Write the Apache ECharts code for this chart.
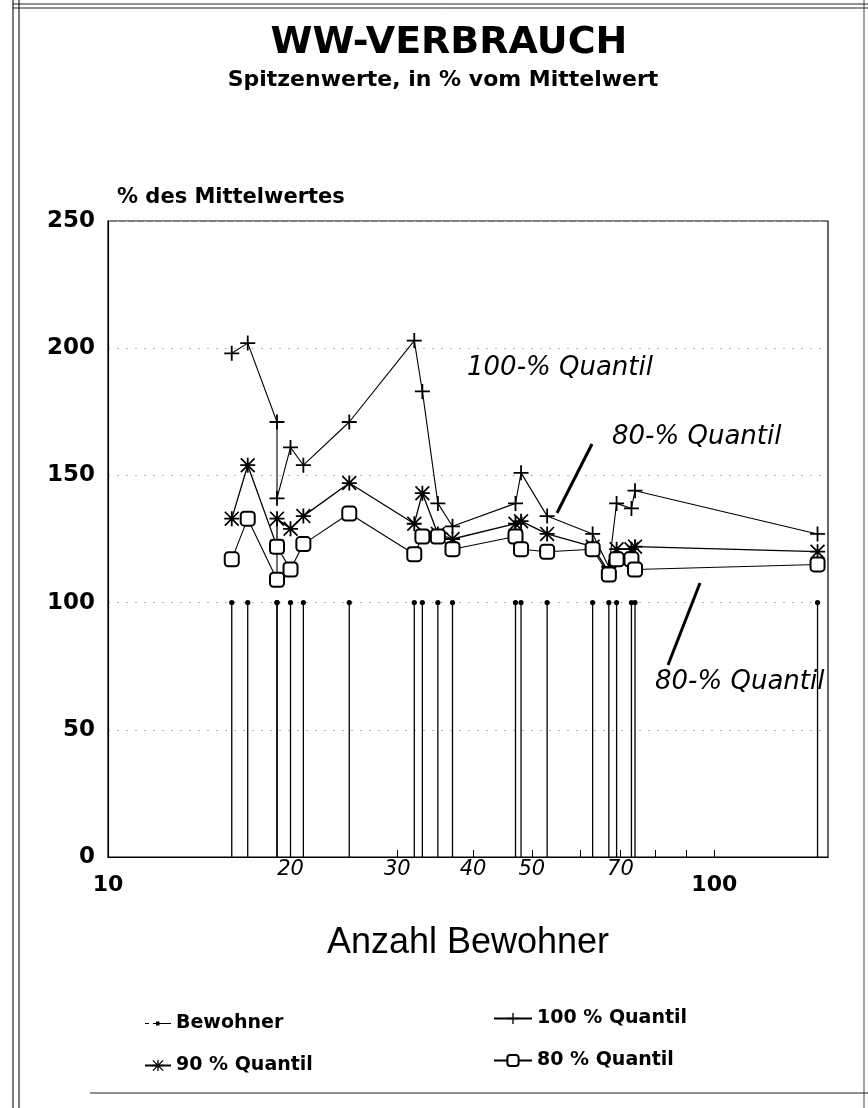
<!DOCTYPE html>
<html>
<head>
    <meta charset="utf-8"/>
    <script src="https://cdn.jsdelivr.net/npm/echarts@6/dist/echarts.min.js"></script>
    <style>
        html, body { margin: 0; padding: 0; background: #fff; }
        #container { width: 868px; height: 1108px; }
    </style>
</head>
<body>
<div id="container"></div>
<script type="text/javascript">
    // Anzahl Bewohner je Haus (log. Achse)
    var residents = [16, 17, 19, 19, 20, 21, 25, 32, 33, 35, 37, 47, 48, 53, 63, 67, 69, 73, 74, 148];
    // Mittelwert = 100 %
    var meanLevel = [100, 100, 100, 100, 100, 100, 100, 100, 100, 100, 100, 100, 100, 100, 100, 100, 100, 100, 100, 100];
    var q100 = [198, 202, 171, 141, 161, 154, 171, 203, 183, 139, 130, 139, 151, 134, 127, 114, 139, 137, 144, 127];
    var q90 = [133, 154, 122, 133, 129, 134, 147, 131, 143, 127, 125, 131, 132, 127, 122, 112, 121, 121, 122, 120];
    var q80 = [117, 133, 109, 122, 113, 123, 135, 119, 126, 126, 121, 126, 121, 120, 121, 111, 117, 117, 113, 115];

    var xLabels = [10, 20, 30, 40, 50, 70, 100];
    var xTicks = [20, 30, 40, 50, 60, 70, 80, 90, 100];

    var FONT = '"Liberation Sans", Arial, Helvetica, sans-serif';
    var WIDE = '"DejaVu Sans", Verdana, sans-serif';

    function pairs(ys) {
        var out = [];
        for (var i = 0; i < residents.length; i++) {
            out.push([residents[i], ys[i]]);
        }
        return out;
    }

    var plusSym = 'path://M0,4.4h10v1.2h-10z M4.4,0h1.2v10h-1.2z';
    var starSym = 'path://M0,4.4h10v1.2h-10z M4.4,0h1.2v10h-1.2z M0.8,0L10,9.2L9.2,10L0,0.8z M9.2,0L10,0.8L0.8,10L0,9.2z';
    var stemIcon = 'path://M0,0h0.01v0.01h-0.01z M26,14h0.01v0.01h-0.01z M0,6.5h4v1h-4z M8,6.5h18v1h-18z M11,5h3.5v4h-3.5z';

    var dom = document.getElementById('container');
    var myChart = echarts.init(dom);
    var option = {
        animation: false,
        backgroundColor: '#fff',
        textStyle: { fontFamily: FONT, color: '#000' },
        grid: {
            left: 108, right: 40, top: 221, bottom: 251,
            show: true, borderColor: '#000', borderWidth: 1.2, backgroundColor: 'transparent'
        },
        xAxis: {
            type: 'log',
            logBase: 10,
            min: 10,
            max: 154,
            name: 'Anzahl Bewohner',
            nameLocation: 'middle',
            nameGap: 68,
            nameTextStyle: { fontSize: 36, fontFamily: FONT, color: '#000' },
            axisLine: { lineStyle: { color: '#000', width: 1.2 } },
            axisTick: { show: true, inside: true, length: 7, customValues: xTicks, lineStyle: { color: '#000' } },
            splitLine: { show: false },
            axisLabel: {
                customValues: xLabels,
                margin: 2,
                formatter: function (v) {
                    var n = Math.round(v);
                    return (n === 10 || n === 100) ? '{b|' + n + '}' : '{i|' + n + '}';
                },
                rich: {
                    b: { fontSize: 22, fontWeight: 'bold', fontFamily: WIDE, color: '#000', padding: [15, 0, 0, 0] },
                    i: { fontSize: 21, fontStyle: 'italic', fontFamily: WIDE, color: '#000' }
                }
            }
        },
        yAxis: {
            type: 'value',
            min: 0,
            max: 250,
            interval: 50,
            name: '% des Mittelwertes',
            nameLocation: 'end',
            nameGap: 13,
            nameTextStyle: { align: 'left', fontSize: 21, fontWeight: 'bold', fontFamily: WIDE, color: '#000', padding: [0, 0, 0, 9] },
            axisLine: { show: true, lineStyle: { color: '#000', width: 1.2 } },
            axisTick: { show: false },
            axisLabel: { fontSize: 23, fontWeight: 'bold', fontFamily: WIDE, color: '#000', margin: 13 },
            splitLine: { show: true, lineStyle: { color: '#b5b5b5', width: 1, type: [2, 7] } }
        },
        legend: [
            {
                data: [{ name: 'Bewohner', icon: stemIcon }, '90 % Quantil'],
                orient: 'vertical',
                left: 139,
                top: 1009,
                itemWidth: 26,
                itemHeight: 14,
                itemGap: 23,
                textStyle: { fontSize: 19, fontWeight: 'bold', fontFamily: WIDE, color: '#000' }
            },
            {
                data: ['100 % Quantil', '80 % Quantil'],
                orient: 'vertical',
                left: 488,
                top: 1004,
                itemWidth: 38,
                itemHeight: 14,
                itemGap: 23,
                textStyle: { fontSize: 19, fontWeight: 'bold', fontFamily: WIDE, color: '#000' }
            }
        ],
        graphic: [
            { type: 'text', x: 449, y: 43, style: { text: 'WW-VERBRAUCH', align: 'center', verticalAlign: 'middle', font: 'bold 38px ' + WIDE, fill: '#000' }, z: 50 },
            { type: 'text', x: 443, y: 80, style: { text: 'Spitzenwerte, in % vom Mittelwert', align: 'center', verticalAlign: 'middle', font: 'bold 22px ' + WIDE, fill: '#000' }, z: 50 },
            { type: 'text', x: 467, y: 368, style: { text: '100-% Quantil', verticalAlign: 'middle', font: 'italic 26px ' + WIDE, fill: '#000' }, z: 50 },
            { type: 'text', x: 612, y: 437, style: { text: '80-% Quantil', verticalAlign: 'middle', font: 'italic 26px ' + WIDE, fill: '#000' }, z: 50 },
            { type: 'line', shape: { x1: 592, y1: 444, x2: 557, y2: 513 }, style: { stroke: '#000', lineWidth: 3 }, z: 50 },
            { type: 'text', x: 655, y: 682, style: { text: '80-% Quantil', verticalAlign: 'middle', font: 'italic 26px ' + WIDE, fill: '#000' }, z: 50 },
            { type: 'line', shape: { x1: 700, y1: 583, x2: 668, y2: 665 }, style: { stroke: '#000', lineWidth: 3 }, z: 50 },
            { type: 'rect', shape: { x: 829.5, y: 660, width: 30, height: 45 }, style: { fill: '#fff' }, z: 60 },
            // Blattrahmen
            { type: 'line', shape: { x1: 13, y1: 0, x2: 13, y2: 1108 }, style: { stroke: '#222', lineWidth: 1.2 }, z: 50 },
            { type: 'line', shape: { x1: 19, y1: 0, x2: 19, y2: 1108 }, style: { stroke: '#222', lineWidth: 1.2 }, z: 50 },
            { type: 'line', shape: { x1: 13, y1: 4, x2: 868, y2: 4 }, style: { stroke: '#222', lineWidth: 1.2 }, z: 50 },
            { type: 'line', shape: { x1: 13, y1: 8, x2: 868, y2: 8 }, style: { stroke: '#222', lineWidth: 1 }, z: 50 },
            { type: 'line', shape: { x1: 864, y1: 0, x2: 864, y2: 1108 }, style: { stroke: '#444', lineWidth: 1 }, z: 50 },
            { type: 'line', shape: { x1: 90, y1: 1093, x2: 868, y2: 1093 }, style: { stroke: '#222', lineWidth: 1.2 }, z: 50 }
        ],
        series: [
            {
                name: 'Bewohner',
                type: 'custom',
                data: pairs(meanLevel),
                itemStyle: { color: '#000' },
                renderItem: function (params, api) {
                    var top = api.coord([api.value(0), api.value(1)]);
                    var base = api.coord([api.value(0), 0]);
                    return {
                        type: 'group',
                        children: [
                            { type: 'line', shape: { x1: base[0], y1: base[1], x2: top[0], y2: top[1] }, style: { stroke: '#000', lineWidth: 1.3 } },
                            { type: 'circle', shape: { cx: top[0], cy: top[1], r: 2.6 }, style: { fill: '#000' } }
                        ]
                    };
                }
            },
            {
                name: '100 % Quantil',
                type: 'line',
                data: pairs(q100),
                symbol: plusSym,
                symbolSize: 15,
                lineStyle: { color: '#000', width: 1.1 },
                itemStyle: { color: '#000' },
                z: 3
            },
            {
                name: '90 % Quantil',
                type: 'line',
                data: pairs(q90),
                symbol: starSym,
                symbolSize: 15,
                lineStyle: { color: '#000', width: 1.3 },
                itemStyle: { color: '#000' },
                z: 4
            },
            {
                name: '80 % Quantil',
                type: 'line',
                data: pairs(q80),
                symbol: 'emptyRoundRect',
                symbolSize: 14,
                lineStyle: { color: '#000', width: 1.1 },
                itemStyle: { color: '#000', borderWidth: 1.6 },
                z: 5
            }
        ]
    };

    if (option && typeof option === 'object') {
        myChart.setOption(option, true);
    }
</script>
</body>
</html>
